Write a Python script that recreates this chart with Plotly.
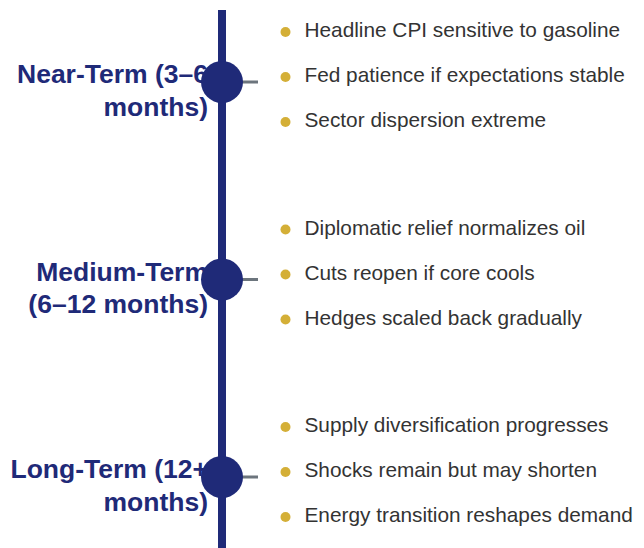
import plotly.graph_objects as go

# ---- data ----
phase_line1 = ["Near-Term (3–6", "Medium-Term", "Long-Term (12+"]
phase_line2 = ["months)", "(6–12 months)", "months)"]
bullets_near = ["Headline CPI sensitive to gasoline",
                "Fed patience if expectations stable",
                "Sector dispersion extreme"]
bullets_medium = ["Diplomatic relief normalizes oil",
                  "Cuts reopen if core cools",
                  "Hedges scaled back gradually"]
bullets_long = ["Supply diversification progresses",
                "Shocks remain but may shorten",
                "Energy transition reshapes demand"]
bullet_groups = [bullets_near, bullets_medium, bullets_long]

# ---- layout constants (page-pixel space; page body has an 8px margin) ----
PAGE_W, PAGE_H = 644, 548
OFF = 8
FIG_W = PAGE_W - OFF
FIG_H = PAGE_H - OFF
NAVY = "#1f2a78"
GOLD = "#d4af37"
GRAY = "#6c757d"
TEXT = "#333333"
LINE_X = 222
CENTERS = [82, 279.5, 477]
LABEL_X = 208
DOT_X = 285.5
TEXT_X = 304.5
BULLET_OFFSETS = [-50, -5, 40]
FONT = "Liberation Sans, Arial, sans-serif"

fig = go.Figure()

shapes = [dict(type="line", x0=LINE_X, x1=LINE_X, y0=10, y1=PAGE_H + 5,
               line=dict(color=NAVY, width=8), layer="below")]
for c in CENTERS:
    shapes.append(dict(type="line", x0=LINE_X, x1=258, y0=c, y1=c,
                       line=dict(color=GRAY, width=3), layer="below"))

# labels (drawn first so circles cover them)
fig.add_trace(go.Scatter(
    x=[LABEL_X] * 3, y=[c - 5.5 for c in CENTERS], mode="text",
    text=[f"<b>{t}</b>" for t in phase_line1], textposition="middle left",
    textfont=dict(family=FONT, size=26.5, color=NAVY), hoverinfo="skip",
    cliponaxis=False))
fig.add_trace(go.Scatter(
    x=[LABEL_X] * 3, y=[c + 27 for c in CENTERS], mode="text",
    text=[f"<b>{t}</b>" for t in phase_line2], textposition="middle left",
    textfont=dict(family=FONT, size=26.5, color=NAVY), hoverinfo="skip",
    cliponaxis=False))

# circles
fig.add_trace(go.Scatter(
    x=[LINE_X] * 3, y=CENTERS, mode="markers",
    marker=dict(size=42, color=NAVY, line=dict(width=0)), hoverinfo="skip"))

# bullets
bx, by, bt = [], [], []
for c, group in zip(CENTERS, bullet_groups):
    for off, t in zip(BULLET_OFFSETS, group):
        bx.append(DOT_X)
        by.append(c + off)
        bt.append(t)
fig.add_trace(go.Scatter(
    x=bx, y=by, mode="markers",
    marker=dict(size=10, color=GOLD, line=dict(width=0)), hoverinfo="skip"))
fig.add_trace(go.Scatter(
    x=[TEXT_X] * len(bt), y=by, mode="text", text=bt,
    textposition="middle right",
    textfont=dict(family=FONT, size=20.8, color=TEXT), hoverinfo="skip",
    cliponaxis=False))

fig.update_layout(
    width=FIG_W, height=FIG_H,
    margin=dict(l=0, r=0, t=0, b=0),
    paper_bgcolor="white", plot_bgcolor="white", showlegend=False,
    xaxis=dict(range=[OFF, OFF + FIG_W], visible=False, fixedrange=True),
    yaxis=dict(range=[OFF + FIG_H, OFF], visible=False, fixedrange=True),
    shapes=shapes,
)
fig.write_html("out.html")
